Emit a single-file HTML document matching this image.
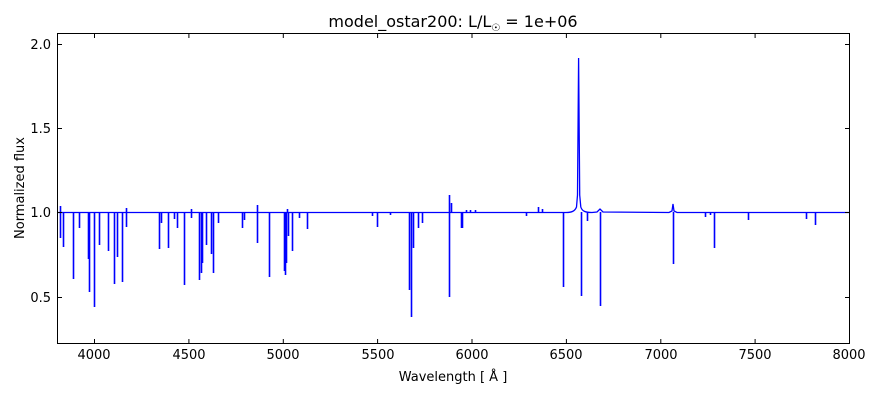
<!DOCTYPE html>
<html><head><meta charset="utf-8"><style>
html,body{margin:0;padding:0;background:#fff;}
svg text{font-family:"DejaVu Sans","Liberation Sans",sans-serif;fill:#000;}
</style></head><body>
<svg width="880" height="400" viewBox="0 0 880 400" xmlns="http://www.w3.org/2000/svg">
<rect x="0" y="0" width="880" height="400" fill="#fff"/>
<g stroke="#0000ff" stroke-width="1.3" fill="none">
<path d="M57 212.5 L566 212.5 C572 212.5 575 211 576.5 207 L577.5 195 L578.6 58 L579.7 195 L580.8 207 C582 211 585 212.5 592 212.5 L597 212 L600 209 L603 212 L669 212.5 L672 211 L673 204 L674 211 L677 212.5 L849 212.5"/>
</g>
<g stroke="#0000ff" stroke-width="1.6" fill="none">
<path d="M60.5 212V238 M63.5 212V247 M73.5 212V279 M79.5 212V228 M88.5 212V259 M89.5 212V292 M94.5 212V307 M99.5 212V245 M108.5 212V251 M114.5 212V284 M117.5 212V257 M122.5 212V282 M126.5 212V227 M159.5 212V249 M161.5 212V223 M168.5 212V248 M174.5 212V219 M177.5 212V228 M184.5 212V285 M191.5 212V218 M199.5 212V280 M201.5 212V273 M202.5 212V263 M206.5 212V245 M211.5 212V254 M213.5 212V273 M218.5 212V223 M242.5 212V228 M244.5 212V220 M257.5 212V243 M269.5 212V277 M284.5 212V271 M285.5 212V275 M286.5 212V263 M288.5 212V236 M292.5 212V251 M299.5 212V218 M307.5 212V229 M257.5 212V205 M126.5 212V208 M60.5 212V206 M191.5 212V209 M287.5 212V209
M372.5 212V216 M377.5 212V227 M390.5 212V215 M409.5 212V290 M411.5 212V317 M413.5 212V248 M418.5 212V228 M422.5 212V223 M449.5 212V297 M449.5 212V195 M451.5 212V203 M461.5 212V228 M462.5 212V228 M466.5 212V210 M470.5 212V210 M475.5 212V210
M526.5 212V216 M538.5 212V207 M542.5 212V209 M563.5 212V287 M581.5 212V296 M587.5 212V221 M600.5 212V306 M673.5 212V264 M705.5 212V217 M710.5 212V215 M714.5 212V248 M748.5 212V220 M806.5 212V219 M815.5 212V225"/>
</g>
<g stroke="#000" stroke-width="1" fill="none">
<rect x="57.5" y="33.5" width="792" height="310"/>
<path d="M94.5 343V339 M188.9 343V339 M283.3 343V339 M377.6 343V339 M472 343V339 M566.4 343V339 M660.8 343V339 M755.1 343V339 M849.5 343V339
M94.5 34V38 M188.9 34V38 M283.3 34V38 M377.6 34V38 M472 34V38 M566.4 34V38 M660.8 34V38 M755.1 34V38
M58 297.5H62 M58 212.5H62 M58 128.5H62 M58 44.5H62 M849 297.5H845 M849 212.5H845 M849 128.5H845 M849 44.5H845"/>
</g>
<g font-size="13" text-anchor="middle">
<text x="94" y="359">4000</text><text x="189" y="359">4500</text><text x="283" y="359">5000</text><text x="378" y="359">5500</text><text x="472" y="359">6000</text><text x="566" y="359">6500</text><text x="661" y="359">7000</text><text x="755" y="359">7500</text><text x="849" y="359">8000</text>
</g>
<g font-size="13" text-anchor="end">
<text x="51" y="302">0.5</text><text x="51" y="217">1.0</text><text x="51" y="133">1.5</text><text x="51" y="49">2.0</text>
</g>
<text x="453" y="381" font-size="13" text-anchor="middle">Wavelength [ Å ]</text>
<text transform="translate(24 188) rotate(-90)" font-size="13" text-anchor="middle">Normalized flux</text>
<text x="453" y="27" font-size="16" text-anchor="middle">model_ostar200: L/L<tspan font-size="10" dy="4">☉</tspan><tspan dy="-4"> = 1e+06</tspan></text>
</svg>
</body></html>
